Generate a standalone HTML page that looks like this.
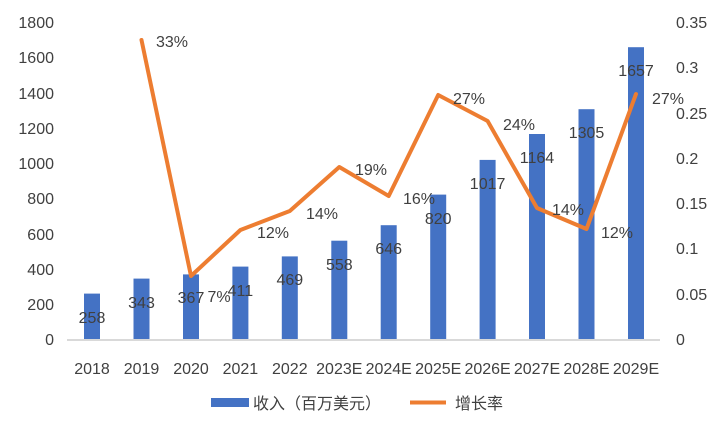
<!DOCTYPE html>
<html><head><meta charset="utf-8"><style>
body{margin:0;background:#fff}
text{font-family:"Liberation Sans","Noto Sans CJK SC",sans-serif;fill:#404040;font-size:16px}
</style></head><body>
<svg width="722" height="432" viewBox="0 0 722 432" xmlns="http://www.w3.org/2000/svg">
<g text-anchor="end" fill="#595959">
<text x="54" y="345">0</text><text x="54" y="310">200</text><text x="54" y="275">400</text><text x="54" y="240">600</text><text x="54" y="204">800</text><text x="54" y="169">1000</text><text x="54" y="134">1200</text><text x="54" y="99">1400</text><text x="54" y="63">1600</text><text x="54" y="28">1800</text>
</g>
<g text-anchor="start">
<text x="676" y="345">0</text><text x="676" y="300">0.05</text><text x="676" y="254">0.1</text><text x="676" y="209">0.15</text><text x="676" y="164">0.2</text><text x="676" y="119">0.25</text><text x="676" y="73">0.3</text><text x="676" y="28">0.35</text>
</g>
<g fill="#4472c4">
<rect x="84" y="293.6" width="16" height="45.4"/>
<rect x="133.5" y="278.6" width="16" height="60.4"/>
<rect x="183" y="274.4" width="16" height="64.6"/>
<rect x="232.4" y="266.6" width="16" height="72.4"/>
<rect x="281.8" y="256.4" width="16" height="82.6"/>
<rect x="331.3" y="240.7" width="16" height="98.3"/>
<rect x="380.7" y="225.2" width="16" height="113.8"/>
<rect x="430.2" y="194.6" width="16" height="144.4"/>
<rect x="479.6" y="159.9" width="16" height="179.1"/>
<rect x="529" y="134" width="16" height="205"/>
<rect x="578.5" y="109.2" width="16" height="229.8"/>
<rect x="628" y="47.2" width="16" height="291.8"/>
</g>
<line x1="67" y1="340" x2="660" y2="340" stroke="#d9d9d9" stroke-width="2"/>
<g text-anchor="middle">
<text x="92" y="323">258</text><text x="141.5" y="308">343</text><text x="191" y="303">367</text><text x="240.4" y="296">411</text><text x="289.8" y="285">469</text><text x="339.3" y="270">558</text><text x="388.7" y="254">646</text><text x="438.2" y="224">820</text><text x="487.6" y="189">1017</text><text x="537" y="163">1164</text><text x="586.5" y="138">1305</text><text x="636" y="76">1657</text>
</g>
<polyline fill="none" stroke="#ed7d31" stroke-width="4" stroke-linejoin="round" stroke-linecap="round" points="141.5,40 191,276 240.4,230 289.8,211 339.3,167 388.7,196 438.2,95 487.6,121 537,208 586.5,229 636,94"/>
<g text-anchor="middle">
<text x="172" y="47">33%</text><text x="219" y="302">7%</text><text x="273" y="238">12%</text><text x="322" y="219">14%</text><text x="371" y="175">19%</text><text x="419" y="204">16%</text><text x="469" y="104">27%</text><text x="519" y="130">24%</text><text x="568" y="215">14%</text><text x="617" y="238">12%</text><text x="668" y="104">27%</text>
</g>
<g text-anchor="middle" fill="#595959">
<text x="92" y="374">2018</text><text x="141.5" y="374">2019</text><text x="191" y="374">2020</text><text x="240.4" y="374">2021</text><text x="289.8" y="374">2022</text><text x="339.3" y="374">2023E</text><text x="388.7" y="374">2024E</text><text x="438.2" y="374">2025E</text><text x="487.6" y="374">2026E</text><text x="537" y="374">2027E</text><text x="586.5" y="374">2028E</text><text x="636" y="374">2029E</text>
</g>
<rect x="211" y="398" width="38" height="9" fill="#4472c4"/>
<text x="253" y="409">收入（百万美元）</text>
<line x1="410" y1="402.5" x2="446" y2="402.5" stroke="#ed7d31" stroke-width="4"/>
<text x="455" y="409">增长率</text>
</svg>
</body></html>
